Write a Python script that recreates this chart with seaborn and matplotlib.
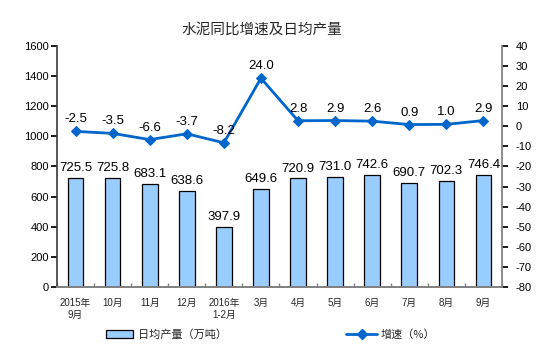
import matplotlib
matplotlib.use("Agg")
import matplotlib.pyplot as plt
import seaborn as sns
import numpy as np
import pandas as pd
from matplotlib.patches import Patch
from matplotlib.lines import Line2D

categories = ["2015年\n9月", "10月", "11月", "12月", "2016年\n1-2月", "3月", "4月", "5月", "6月", "7月", "8月", "9月"]
output = [725.5, 725.8, 683.1, 638.6, 397.9, 649.6, 720.9, 731.0, 742.6, 690.7, 702.3, 746.4]
growth = [-2.5, -3.5, -6.6, -3.7, -8.2, 24.0, 2.8, 2.9, 2.6, 0.9, 1.0, 2.9]

sns.set_theme(style="white")
plt.rcParams['font.family'] = ['Liberation Sans', 'Noto Sans CJK SC', 'DejaVu Sans']
plt.rcParams['axes.unicode_minus'] = False

df = pd.DataFrame({"cat": categories, "output": output, "growth": growth})

fig = plt.figure(figsize=(5.54, 3.52), dpi=100)
ax = fig.add_axes([0.103, 0.185, 0.803, 0.684])
sns.barplot(data=df, x="cat", y="output", ax=ax, color="#99CCFF", edgecolor="black",
            linewidth=0.9, width=0.42, saturation=1)
ax.set_xlim(-0.5, len(categories) - 0.5)
ax.set_ylim(0, 1600)
ax.set_yticks(np.arange(0, 1601, 200))
ax.set_xlabel("")
ax.set_ylabel("")
for i, v in enumerate(output):
    ax.text(i, v + 25, f"{v:.1f}", ha="center", va="bottom", fontsize=9.5, color="black")

ax2 = ax.twinx()
sns.lineplot(x=np.arange(len(categories)), y=growth, ax=ax2, color="#0066CC", marker="D",
             markersize=5, linewidth=2, markeredgecolor="#0066CC")
ax2.set_ylim(-80, 40)
ax2.set_yticks(np.arange(-80, 41, 10))
for i, v in enumerate(growth):
    ax2.text(i, v + 3, f"{v:.1f}", ha="center", va="bottom", fontsize=9.5, color="black")

for a in (ax, ax2):
    a.spines["top"].set_visible(False)
    a.spines["left"].set_color("#404040")
    a.spines["right"].set_color("#808080")
    a.spines["bottom"].set_color("#808080")
ax2.spines["left"].set_visible(False)
ax.spines["right"].set_visible(False)

ax.tick_params(axis="y", which="both", left=True, length=4, labelsize=8, colors="black", pad=2)
ax2.tick_params(axis="y", right=True, length=4, labelsize=8, colors="black", pad=6)
ax.set_xticks(np.arange(len(categories)))
ax.set_xticklabels(categories, fontsize=7)
ax.tick_params(axis="x", which="major", bottom=False, length=0, pad=8)
ax.set_xticks(np.arange(-0.5, len(categories), 1), minor=True)
ax.tick_params(axis="x", which="minor", bottom=True, length=3, color="#808080", direction="in")

fig.text(0.472, 0.915, "水泥同比增速及日均产量", ha="center", va="center", fontsize=10.5,
         family=['Noto Sans CJK SC', 'DejaVu Sans'])

h1 = Patch(facecolor="#99CCFF", edgecolor="black", linewidth=0.9)
h2 = Line2D([0], [0], color="#0066CC", marker="D", markersize=5, linewidth=2)
fig.legend([h1], ["日均产量（万吨）"], loc="center", bbox_to_anchor=(0.30, 0.05), frameon=False,
           handlelength=2.5, handletextpad=0.4,
           prop={'family': ['Noto Sans CJK SC', 'DejaVu Sans'], 'size': 8})
fig.legend([h2], ["增速（%）"], loc="center", bbox_to_anchor=(0.705, 0.05), frameon=False,
           handlelength=2.8, handletextpad=0.3,
           prop={'family': ['Noto Sans CJK SC', 'DejaVu Sans'], 'size': 8})

fig.savefig("out.png", dpi=100)
